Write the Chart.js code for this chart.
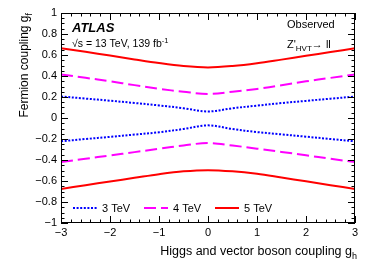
<!DOCTYPE html>
<html><head><meta charset="utf-8">
<script src="https://cdn.jsdelivr.net/npm/chart.js@4/dist/chart.umd.min.js"></script>
<style>html,body{margin:0;padding:0;background:#fff;}canvas{display:block;}</style>
</head><body>
<canvas id="c" width="374" height="268"></canvas>
<script>
// ---- data ----
const gh = [-3, -2.5, -2, -1.5, -1, -0.5, 0, 0.5, 1, 1.5, 2, 2.5, 3];
const up3TeV = [0.205, 0.185, 0.165, 0.143, 0.120, 0.093, 0.062, 0.093, 0.118, 0.142, 0.163, 0.184, 0.204];
const lo3TeV = [-0.222, -0.200, -0.180, -0.158, -0.136, -0.105, -0.070, -0.105, -0.134, -0.156, -0.178, -0.200, -0.222];
const up4TeV = [0.415, 0.383, 0.350, 0.313, 0.278, 0.250, 0.229, 0.250, 0.277, 0.312, 0.349, 0.382, 0.415];
const lo4TeV = [-0.420, -0.388, -0.357, -0.325, -0.293, -0.262, -0.238, -0.262, -0.292, -0.323, -0.355, -0.388, -0.420];
const up5TeV = [0.665, 0.630, 0.595, 0.558, 0.523, 0.495, 0.482, 0.495, 0.521, 0.556, 0.592, 0.628, 0.664];
const lo5TeV = [-0.676, -0.640, -0.605, -0.570, -0.535, -0.508, -0.497, -0.508, -0.532, -0.567, -0.603, -0.640, -0.676];
const seriesNames = ['3 TeV', '4 TeV', '5 TeV'];
const xTickLabels = ['\u22123', '\u22122', '\u22121', '0', '1', '2', '3'];
const yTickLabels = ['\u22121', '\u22120.8', '\u22120.6', '\u22120.4', '\u22120.2', '0', '0.2', '0.4', '0.6', '0.8', '1'];

const FONT = '"Liberation Sans", Arial, Helvetica, sans-serif';
const styles = [
  {color: '#0000ff', dash: [2, 1.6], width: 2},
  {color: '#ff00ff', dash: [12, 5], width: 2},
  {color: '#ff0000', dash: [], width: 2}
];
const toPts = arr => arr.map((v, i) => ({x: gh[i], y: v}));
const seriesData = [[up3TeV, lo3TeV], [up4TeV, lo4TeV], [up5TeV, lo5TeV]];
const datasets = [];
seriesData.forEach((pair, k) => {
  pair.forEach((arr, j) => {
    datasets.push({
      label: j === 0 ? seriesNames[k] : seriesNames[k] + ' (lower)',
      data: toPts(arr),
      borderColor: styles[k].color,
      borderDash: styles[k].dash,
      borderWidth: styles[k].width,
      pointRadius: 0,
      tension: 0.35,
      fill: false,
      seriesIndex: k
    });
  });
});

function drawTextWithSub(ctx, parts, x, y) {
  // parts: [{t, sub, sup}]
  let cx = x;
  parts.forEach(p => {
    ctx.save();
    ctx.font = p.font;
    let dy = 0;
    if (p.sub) dy = p.sub;
    if (p.sup) dy = -p.sup;
    ctx.fillText(p.t, cx, y + dy);
    cx += ctx.measureText(p.t).width;
    ctx.restore();
  });
  return cx - x;
}
function measureParts(ctx, parts) {
  let w = 0;
  parts.forEach(p => { ctx.save(); ctx.font = p.font; w += ctx.measureText(p.t).width; ctx.restore(); });
  return w;
}

const decor = {
  id: 'decor',
  afterDatasetsDraw(chart) {
    const ctx = chart.ctx;
    const a = chart.chartArea;
    const xs = chart.scales.x, ys = chart.scales.y;
    ctx.save();
    ctx.strokeStyle = '#000';
    ctx.lineWidth = 1;
    ctx.setLineDash([]);
    // frame
    ctx.strokeRect(a.left + 0.5, a.top + 0.5, a.right - a.left - 1, a.bottom - a.top - 1);
    // x ticks (inward, bottom and top)
    ctx.beginPath();
    for (let i = 0; i <= 30; i++) {
      const v = -3 + i * 0.2;
      const px = Math.round(xs.getPixelForValue(v)) + 0.5;
      const len = (i % 5 === 0) ? 7 : 3.5;
      ctx.moveTo(px, a.bottom); ctx.lineTo(px, a.bottom - len);
      ctx.moveTo(px, a.top); ctx.lineTo(px, a.top + len);
    }
    // y ticks (inward, left and right)
    for (let i = 0; i <= 40; i++) {
      const v = -1 + i * 0.05;
      const py = Math.round(ys.getPixelForValue(v)) + 0.5;
      const len = (i % 4 === 0) ? 7 : 3.5;
      ctx.moveTo(a.left, py); ctx.lineTo(a.left + len, py);
      ctx.moveTo(a.right, py); ctx.lineTo(a.right - len, py);
    }
    ctx.stroke();

    ctx.fillStyle = '#000';
    ctx.textBaseline = 'alphabetic';
    ctx.textAlign = 'left';
    // ATLAS label
    ctx.font = 'italic bold 13px ' + FONT;
    ctx.fillText('ATLAS', 72, 32);
    // sqrt(s) line
    const f10 = '10.5px ' + FONT, f7 = '7.5px ' + FONT;
    drawTextWithSub(ctx, [
      {t: '\u221As = 13 TeV, 139 fb', font: f10},
      {t: '-1', font: f7, sup: 4}
    ], 72, 47);
    // Observed
    ctx.font = '11px ' + FONT;
    ctx.fillText('Observed', 287, 28);
    // Z'_HVT -> ll
    drawTextWithSub(ctx, [
      {t: "Z'", font: '11px ' + FONT},
      {t: 'HVT', font: '8px ' + FONT, sub: 3},
      {t: '\u2192 ll', font: '11px ' + FONT}
    ], 287, 48);

    // legend
    const ly = 208;
    const lx = [73, 144, 215];
    ctx.font = '11px ' + FONT;
    for (let k = 0; k < 3; k++) {
      ctx.save();
      ctx.strokeStyle = styles[k].color;
      ctx.lineWidth = styles[k].width;
      ctx.setLineDash(styles[k].dash);
      ctx.beginPath();
      ctx.moveTo(lx[k], ly); ctx.lineTo(lx[k] + 24, ly);
      ctx.stroke();
      ctx.restore();
      ctx.fillStyle = '#000';
      ctx.textBaseline = 'middle';
      ctx.fillText(seriesNames[k], lx[k] + 29, ly + 0.5);
    }

    // axis titles
    ctx.textBaseline = 'alphabetic';
    const tf = '12.5px ' + FONT, sf = '9px ' + FONT;
    const xParts = [{t: 'Higgs and vector boson coupling g', font: tf}, {t: 'h', font: sf, sub: 4}];
    const xw = measureParts(ctx, xParts);
    drawTextWithSub(ctx, xParts, a.right + 2 - xw, 255);
    const yParts = [{t: 'Fermion coupling g', font: '12px ' + FONT}, {t: 'f', font: sf, sub: 4}];
    const yw = measureParts(ctx, yParts);
    ctx.save();
    ctx.translate(28, a.top);
    ctx.rotate(-Math.PI / 2);
    drawTextWithSub(ctx, yParts, -yw, 0);
    ctx.restore();
    ctx.restore();
  }
};

new Chart(document.getElementById('c'), {
  type: 'line',
  data: {datasets},
  options: {
    responsive: false,
    animation: false,
    devicePixelRatio: 1,
    layout: {padding: {left: 0, right: 19, top: 13, bottom: 0}},
    plugins: {legend: {display: false}, tooltip: {enabled: false}},
    scales: {
      x: {
        type: 'linear', min: -3, max: 3,
        afterFit(s) { s.height = 45; },
        grid: {display: false, drawTicks: false},
        border: {display: false},
        afterBuildTicks(s) { s.ticks = xTickLabels.map((_, i) => ({value: -3 + i})); },
        ticks: {
          padding: 3, color: '#000', font: {family: FONT, size: 11},
          callback: (v) => xTickLabels[Math.round(v) + 3]
        }
      },
      y: {
        type: 'linear', min: -1, max: 1,
        afterFit(s) { s.width = 61; },
        grid: {display: false, drawTicks: false},
        border: {display: false},
        afterBuildTicks(s) { s.ticks = yTickLabels.map((_, i) => ({value: -1 + i * 0.2})); },
        ticks: {
          padding: 4, color: '#000', font: {family: FONT, size: 11},
          callback: (v) => yTickLabels[Math.round((v + 1) / 0.2)]
        }
      }
    }
  },
  plugins: [decor]
});
</script>
</body></html>
